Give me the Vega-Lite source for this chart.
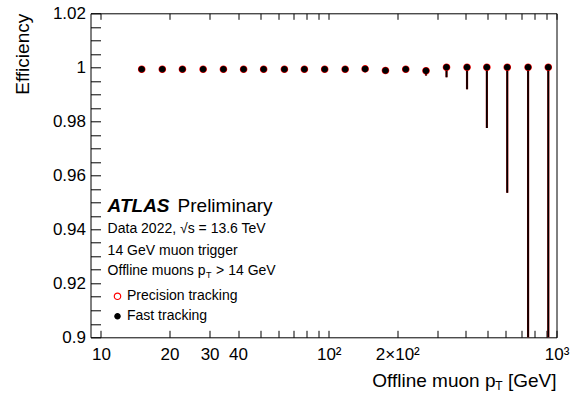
{
  "$schema": "https://vega.github.io/schema/vega-lite/v6.json",
  "width": 466,
  "height": 324,
  "autosize": {"type": "none"},
  "padding": {"left": 90.5, "top": 13.3, "right": 15.5, "bottom": 58.7},
  "background": "white",
  "config": {
    "font": "Liberation Sans",
    "view": {"stroke": "#000", "strokeWidth": 1},
    "axis": {"grid": false, "domain": false, "labelColor": "#000", "labelFont": "Liberation Sans", "titleFont": "Liberation Sans"},
    "text": {"font": "Liberation Sans", "color": "#000"}
  },
  "data": {
    "values": [
      {"series": "Precision tracking", "pt": 15.1, "eff": 0.9993, "lo": 0.9991, "hi": 0.9995},
      {"series": "Precision tracking", "pt": 18.6, "eff": 0.9993, "lo": 0.9991, "hi": 0.9995},
      {"series": "Precision tracking", "pt": 22.8, "eff": 0.9993, "lo": 0.9991, "hi": 0.9995},
      {"series": "Precision tracking", "pt": 28.1, "eff": 0.9993, "lo": 0.9991, "hi": 0.9995},
      {"series": "Precision tracking", "pt": 34.5, "eff": 0.9993, "lo": 0.9991, "hi": 0.9995},
      {"series": "Precision tracking", "pt": 42.3, "eff": 0.9993, "lo": 0.9991, "hi": 0.9995},
      {"series": "Precision tracking", "pt": 51.8, "eff": 0.9993, "lo": 0.9991, "hi": 0.9995},
      {"series": "Precision tracking", "pt": 63.9, "eff": 0.9993, "lo": 0.9991, "hi": 0.9995},
      {"series": "Precision tracking", "pt": 78.2, "eff": 0.9993, "lo": 0.9991, "hi": 0.9995},
      {"series": "Precision tracking", "pt": 96.0, "eff": 0.9993, "lo": 0.9991, "hi": 0.9995},
      {"series": "Precision tracking", "pt": 118.1, "eff": 0.9993, "lo": 0.9991, "hi": 0.9995},
      {"series": "Precision tracking", "pt": 144.5, "eff": 0.9994, "lo": 0.9992, "hi": 0.9996},
      {"series": "Precision tracking", "pt": 177.5, "eff": 0.9988, "lo": 0.9985, "hi": 0.9991},
      {"series": "Precision tracking", "pt": 217.9, "eff": 0.9993, "lo": 0.9990, "hi": 0.9996},
      {"series": "Precision tracking", "pt": 267.4, "eff": 0.9987, "lo": 0.9970, "hi": 0.9993},
      {"series": "Precision tracking", "pt": 329.0, "eff": 1.0, "lo": 0.9963, "hi": 1.0},
      {"series": "Precision tracking", "pt": 404.8, "eff": 1.0, "lo": 0.9919, "hi": 1.0},
      {"series": "Precision tracking", "pt": 494.6, "eff": 1.0, "lo": 0.9775, "hi": 1.0},
      {"series": "Precision tracking", "pt": 607.9, "eff": 1.0, "lo": 0.9535, "hi": 1.0},
      {"series": "Precision tracking", "pt": 750.4, "eff": 1.0, "lo": 0.885, "hi": 1.0},
      {"series": "Precision tracking", "pt": 920.4, "eff": 1.0, "lo": 0.86, "hi": 1.0},
      {"series": "Fast tracking", "pt": 15.1, "eff": 0.9993, "lo": 0.9991, "hi": 0.9995},
      {"series": "Fast tracking", "pt": 18.6, "eff": 0.9993, "lo": 0.9991, "hi": 0.9995},
      {"series": "Fast tracking", "pt": 22.8, "eff": 0.9993, "lo": 0.9991, "hi": 0.9995},
      {"series": "Fast tracking", "pt": 28.1, "eff": 0.9993, "lo": 0.9991, "hi": 0.9995},
      {"series": "Fast tracking", "pt": 34.5, "eff": 0.9993, "lo": 0.9991, "hi": 0.9995},
      {"series": "Fast tracking", "pt": 42.3, "eff": 0.9993, "lo": 0.9991, "hi": 0.9995},
      {"series": "Fast tracking", "pt": 51.8, "eff": 0.9993, "lo": 0.9991, "hi": 0.9995},
      {"series": "Fast tracking", "pt": 63.9, "eff": 0.9993, "lo": 0.9991, "hi": 0.9995},
      {"series": "Fast tracking", "pt": 78.2, "eff": 0.9993, "lo": 0.9991, "hi": 0.9995},
      {"series": "Fast tracking", "pt": 96.0, "eff": 0.9993, "lo": 0.9991, "hi": 0.9995},
      {"series": "Fast tracking", "pt": 118.1, "eff": 0.9993, "lo": 0.9991, "hi": 0.9995},
      {"series": "Fast tracking", "pt": 144.5, "eff": 0.9994, "lo": 0.9992, "hi": 0.9996},
      {"series": "Fast tracking", "pt": 177.5, "eff": 0.9988, "lo": 0.9985, "hi": 0.9991},
      {"series": "Fast tracking", "pt": 217.9, "eff": 0.9993, "lo": 0.9990, "hi": 0.9996},
      {"series": "Fast tracking", "pt": 267.4, "eff": 0.9987, "lo": 0.9970, "hi": 0.9993},
      {"series": "Fast tracking", "pt": 329.0, "eff": 1.0, "lo": 0.9963, "hi": 1.0},
      {"series": "Fast tracking", "pt": 404.8, "eff": 1.0, "lo": 0.9919, "hi": 1.0},
      {"series": "Fast tracking", "pt": 494.6, "eff": 1.0, "lo": 0.9775, "hi": 1.0},
      {"series": "Fast tracking", "pt": 607.9, "eff": 1.0, "lo": 0.9535, "hi": 1.0},
      {"series": "Fast tracking", "pt": 750.4, "eff": 1.0, "lo": 0.885, "hi": 1.0},
      {"series": "Fast tracking", "pt": 920.4, "eff": 1.0, "lo": 0.86, "hi": 1.0}
    ]
  },
  "layer": [
    {
      "transform": [{"filter": "datum.series === 'Precision tracking'"}],
      "mark": {"type": "rule", "color": "#a00000", "strokeWidth": 2.2, "clip": true},
      "encoding": {
        "x": {"field": "pt", "type": "quantitative", "scale": {"type": "log", "domain": [9, 1000], "nice": false},
          "axis": {"orient": "bottom", "values": [10, 20, 30, 40, 50, 60, 70, 80, 90, 100, 200, 300, 400, 500, 600, 700, 800, 900, 1000],
            "domain": false, "title": null, "ticks": true, "tickSize": -7, "tickColor": "#000000", "tickWidth": 1,
            "labelExpr": "datum.value == 100 ? '10²' : datum.value == 200 ? '2×10²' : datum.value == 1000 ? '10³' : (datum.value == 10 || datum.value == 20 || datum.value == 30 || datum.value == 40) ? format(datum.value, 'd') : ''",
            "labelFontSize": 17, "labelPadding": 16, "labelFlush": false, "labelOverlap": false, "labelBound": false}},
        "y": {"field": "lo", "type": "quantitative", "scale": {"domain": [0.9, 1.02], "nice": false, "zero": false},
          "axis": {"orient": "left", "values": [0.9, 0.905, 0.91, 0.915, 0.92, 0.925, 0.93, 0.935, 0.94, 0.945, 0.95, 0.955, 0.96, 0.965, 0.97, 0.975, 0.98, 0.985, 0.99, 0.995, 1, 1.005, 1.01, 1.015, 1.02],
            "domain": false, "ticks": true, "tickSize": -10, "tickColor": "#000000", "tickWidth": 1,
            "labelExpr": "abs(datum.value * 50 - round(datum.value * 50)) < 0.001 ? format(datum.value, '.3~g') : ''",
            "labelFontSize": 17, "labelPadding": 15, "labelFlush": false, "labelOverlap": false, "labelBound": false,
            "title": "Efficiency", "titleFontSize": 19, "titleFontWeight": "normal", "titleColor": "#000", "titleAnchor": "end", "titlePadding": 20}},
        "y2": {"field": "hi"}
      }
    },
    {
      "transform": [{"filter": "datum.series === 'Fast tracking'"}],
      "mark": {"type": "rule", "color": "#000000", "strokeWidth": 1.6, "clip": true},
      "encoding": {
        "x": {"field": "pt", "type": "quantitative",
          "axis": {"orient": "top", "values": [10, 20, 30, 40, 50, 60, 70, 80, 90, 100, 200, 300, 400, 500, 600, 700, 800, 900, 1000],
            "labels": false, "domain": false, "title": null, "ticks": true, "tickSize": 6, "offset": -6, "tickColor": "#000000", "tickWidth": 1}},
        "y": {"field": "lo", "type": "quantitative",
          "axis": {"orient": "right", "values": [0.9, 0.905, 0.91, 0.915, 0.92, 0.925, 0.93, 0.935, 0.94, 0.945, 0.95, 0.955, 0.96, 0.965, 0.97, 0.975, 0.98, 0.985, 0.99, 0.995, 1, 1.005, 1.01, 1.015, 1.02],
            "labels": false, "domain": false, "title": null, "ticks": true, "tickSize": 0, "tickColor": "#000000", "tickWidth": 1,
            "encode": {"ticks": {"update": {"x2": {"signal": "abs(datum.value * 50 - round(datum.value * 50)) < 0.001 ? -14 : -7"}}}}}},
        "y2": {"field": "hi"}
      }
    },
    {
      "mark": {"type": "point", "filled": false, "strokeWidth": 1.2, "opacity": 1},
      "encoding": {
        "x": {"field": "pt", "type": "quantitative", "axis": null},
        "y": {"field": "eff", "type": "quantitative", "axis": null},
        "color": {"field": "series", "type": "nominal",
          "scale": {"domain": ["Precision tracking", "Fast tracking"], "range": ["#ff0000", "#000000"]},
          "legend": {"title": null, "orient": "none", "legendX": 20, "legendY": 276, "padding": 0,
            "labelFontSize": 14, "labelColor": "#000", "labelFont": "Liberation Sans", "labelOffset": 2.5, "rowPadding": 6, "symbolStrokeWidth": 1.2,
            "encode": {"symbols": {"update": {
              "fill": {"signal": "datum.value === 'Fast tracking' ? '#000000' : 'transparent'"},
              "size": {"signal": "datum.value === 'Fast tracking' ? 28 : 41"}}}}}},
        "fill": {"field": "series", "type": "nominal",
          "scale": {"domain": ["Precision tracking", "Fast tracking"], "range": ["transparent", "#000000"]}, "legend": null},
        "size": {"field": "series", "type": "nominal",
          "scale": {"domain": ["Precision tracking", "Fast tracking"], "range": [41, 28]}, "legend": null}
      }
    },
    {
      "data": {"values": [{}]},
      "mark": {"type": "text", "text": "ATLAS", "align": "left", "baseline": "middle", "fontSize": 19, "fontWeight": "bold", "fontStyle": "italic"},
      "encoding": {"x": {"datum": 10.7, "type": "quantitative", "axis": null}, "y": {"datum": 0.9486, "type": "quantitative", "axis": null}}
    },
    {
      "data": {"values": [{}]},
      "mark": {"type": "text", "text": "Preliminary", "align": "left", "baseline": "middle", "fontSize": 19},
      "encoding": {"x": {"datum": 21.7, "type": "quantitative", "axis": null}, "y": {"datum": 0.9486, "type": "quantitative", "axis": null}}
    },
    {
      "data": {"values": [{}]},
      "mark": {"type": "text", "text": "Data 2022, √s = 13.6 TeV", "align": "left", "baseline": "middle", "fontSize": 14},
      "encoding": {"x": {"datum": 10.7, "type": "quantitative", "axis": null}, "y": {"datum": 0.9401, "type": "quantitative", "axis": null}}
    },
    {
      "data": {"values": [{}]},
      "mark": {"type": "text", "text": "14 GeV muon trigger", "align": "left", "baseline": "middle", "fontSize": 14},
      "encoding": {"x": {"datum": 10.7, "type": "quantitative", "axis": null}, "y": {"datum": 0.9320, "type": "quantitative", "axis": null}}
    },
    {
      "data": {"values": [{}]},
      "mark": {"type": "text", "text": "Offline muons p", "align": "left", "baseline": "middle", "fontSize": 14},
      "encoding": {"x": {"datum": 10.7, "type": "quantitative", "axis": null}, "y": {"datum": 0.9244, "type": "quantitative", "axis": null}}
    },
    {
      "data": {"values": [{}]},
      "mark": {"type": "text", "text": "T", "align": "left", "baseline": "middle", "fontSize": 9, "dx": 98.5, "dy": 4},
      "encoding": {"x": {"datum": 10.7, "type": "quantitative", "axis": null}, "y": {"datum": 0.9244, "type": "quantitative", "axis": null}}
    },
    {
      "data": {"values": [{}]},
      "mark": {"type": "text", "text": "> 14 GeV", "align": "left", "baseline": "middle", "fontSize": 14, "dx": 108.5},
      "encoding": {"x": {"datum": 10.7, "type": "quantitative", "axis": null}, "y": {"datum": 0.9244, "type": "quantitative", "axis": null}}
    },
    {
      "data": {"values": [{}]},
      "mark": {"type": "text", "text": "Offline muon p", "align": "right", "baseline": "middle", "fontSize": 19, "dx": -61},
      "encoding": {"x": {"datum": 1000, "type": "quantitative", "axis": null}, "y": {"datum": 0.8838, "type": "quantitative", "axis": null}}
    },
    {
      "data": {"values": [{}]},
      "mark": {"type": "text", "text": "T", "align": "right", "baseline": "middle", "fontSize": 12, "dx": -54, "dy": 5},
      "encoding": {"x": {"datum": 1000, "type": "quantitative", "axis": null}, "y": {"datum": 0.8838, "type": "quantitative", "axis": null}}
    },
    {
      "data": {"values": [{}]},
      "mark": {"type": "text", "text": "[GeV]", "align": "right", "baseline": "middle", "fontSize": 19},
      "encoding": {"x": {"datum": 1000, "type": "quantitative", "axis": null}, "y": {"datum": 0.8838, "type": "quantitative", "axis": null}}
    }
  ],
  "resolve": {"axis": {"x": "independent", "y": "independent"}}
}
